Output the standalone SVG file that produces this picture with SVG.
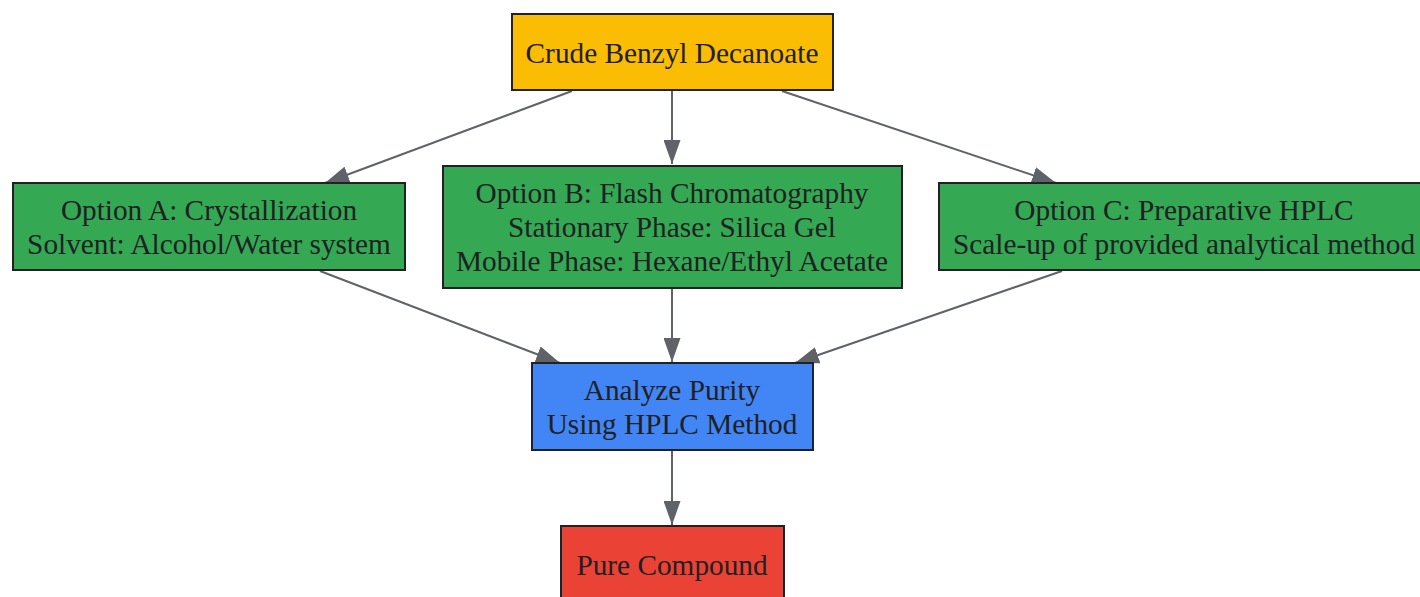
<svg xmlns="http://www.w3.org/2000/svg" width="1420" height="597" viewBox="0 0 1420 597">
<style>
.n rect{stroke:#202124;stroke-width:2}
.n text{font-family:"Liberation Serif","Times New Roman",serif;font-size:29.3px;fill:#202124;text-anchor:middle}
.e path{fill:none;stroke:#5f6368;stroke-width:2;marker-end:url(#ah)}
</style>
<defs>
<marker id="ah" viewBox="0 0 24 17" refX="24" refY="8.5" markerUnits="userSpaceOnUse" markerWidth="24" markerHeight="17" orient="auto">
<path d="M0,0 L24,8.5 L0,17 z" fill="#5f6368"/>
</marker>
</defs>
<rect width="1420" height="597" fill="#ffffff"/>
<g id="edges" class="e">
<path d="M572,91 L325,183"/>
<path d="M672,91 L672,164"/>
<path d="M782,91 L1056,183"/>
<path d="M320,271 L560,363"/>
<path d="M672,289 L672,362"/>
<path d="M1062,271 L795,363"/>
<path d="M672,451 L672,525"/>
</g>
<g id="crude" class="n">
<rect x="512" y="14" width="321" height="76" fill="#fbbc04"/>
<text x="672" y="63">Crude Benzyl Decanoate</text>
</g>
<g id="optA" class="n">
<rect x="13" y="183" width="392" height="87" fill="#34a853"/>
<text x="209" y="220">Option A: Crystallization</text>
<text x="209" y="254">Solvent: Alcohol/Water system</text>
</g>
<g id="optB" class="n">
<rect x="443" y="166" width="459" height="122" fill="#34a853"/>
<text x="672" y="203">Option B: Flash Chromatography</text>
<text x="672" y="237">Stationary Phase: Silica Gel</text>
<text x="672" y="271">Mobile Phase: Hexane/Ethyl Acetate</text>
</g>
<g id="optC" class="n">
<rect x="939" y="183" width="490" height="87" fill="#34a853"/>
<text x="1184" y="220">Option C: Preparative HPLC</text>
<text x="1184" y="254">Scale-up of provided analytical method</text>
</g>
<g id="analyze" class="n">
<rect x="532" y="363" width="281" height="87" fill="#4285f4"/>
<text x="672" y="400">Analyze Purity</text>
<text x="672" y="434">Using HPLC Method</text>
</g>
<g id="pure" class="n">
<rect x="561" y="526" width="223" height="80" fill="#ea4335"/>
<text x="672" y="575">Pure Compound</text>
</g>
</svg>
